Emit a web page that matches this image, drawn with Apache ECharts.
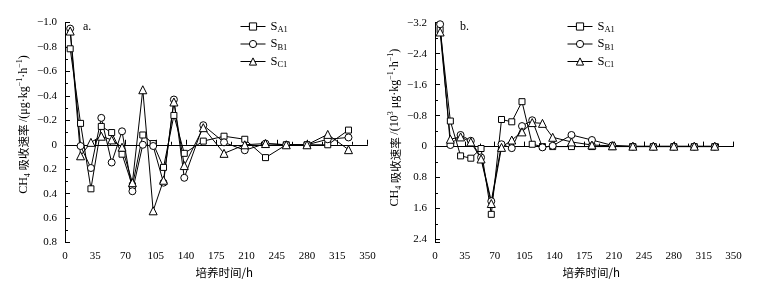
<!DOCTYPE html>
<html>
<head>
<meta charset="utf-8">
<script src="https://cdn.jsdelivr.net/npm/echarts@6/dist/echarts.min.js"></script>
<style>
html,body{margin:0;padding:0;background:#fff;}
#c{width:767px;height:283px;}
</style>
</head>
<body>
<div id="c"></div>
<script>
// ---- data ----
const hours = [6,18,30,42,54,66,78,90,102,114,126,138,160,184,208,232,256,280,304,328];
const seriesNames = ['SA1','SB1','SC1'];
// panel a (μg·kg-1·h-1)
const aSA1 = [-0.785,-0.175,0.36,-0.15,-0.10,0.077,0.335,-0.08,-0.01,0.185,-0.24,0.07,-0.03,-0.07,-0.045,0.105,0,0,0.0,-0.12];
const aSB1 = [-0.95,0.01,0.19,-0.22,0.145,-0.11,0.38,0.0,0.01,0.31,-0.37,0.27,-0.16,-0.02,0.045,-0.01,0,0,-0.045,-0.06];
const aSC1 = [-0.93,0.09,-0.02,-0.07,-0.04,0.02,0.31,-0.45,0.54,0.29,-0.35,0.17,-0.14,0.07,0.0,-0.01,0,0,-0.085,0.04];
// panel b (10^3 μg·kg-1·h-1)
const bSA1 = [-3.02,-0.66,0.24,0.30,0.05,1.75,-0.70,-0.64,-1.16,-0.06,0.0,0.0,0.0,0.0,0.0,0,0,0,0,0];
const bSB1 = [-3.16,-0.04,-0.30,-0.15,0.28,1.41,-0.06,0.04,-0.53,-0.68,0.02,-0.02,-0.30,-0.17,-0.03,0,0,0,0,0];
const bSC1 = [-2.96,-0.19,-0.25,-0.12,0.32,1.47,0.02,-0.17,-0.38,-0.62,-0.60,-0.24,-0.12,-0.04,-0.02,-0.01,-0.01,-0.01,-0.01,-0.01];
// axis ticks
const xTicks = {min:0, max:350, step:35};
const aY = {min:-1.0, max:0.8, step:0.2};
const bY = {min:-3.2, max:2.48, step:0.8};
const panelLabels = ['a.','b.'];
const legendSub = {SA1:'A1', SB1:'B1', SC1:'C1'};

const SERIF = '"Liberation Serif","Times New Roman",serif';
const CJK = '"Noto Sans CJK SC",sans-serif';
const symbols = {SA1:['rect',6], SB1:['circle',7], SC1:['triangle',8]};

function fmtY(v, step){
  if (Math.abs(v) < 1e-9) return '0';
  const r = Math.round(v/step);
  if (Math.abs(v - r*step) > 1e-6) return '';
  return (v<0 ? '\u2212' : '') + Math.abs(v).toFixed(1);
}

const richName = {
  n:{fontFamily:SERIF,fontSize:12,lineHeight:16,color:'#000'},
  c:{fontFamily:CJK,fontSize:11.5,lineHeight:16,color:'#000'},
  sub:{fontFamily:SERIF,fontSize:8,lineHeight:8,verticalAlign:'bottom',color:'#000'},
  sup:{fontFamily:SERIF,fontSize:8,lineHeight:8,verticalAlign:'top',color:'#000'}
};

function xAxis(gi, pad){
  return {
    type:'value', gridIndex:gi, min:xTicks.min, max:xTicks.max, interval:xTicks.step,
    name:'培养时间/h', nameLocation:'middle', nameGap:18,
    nameTextStyle:{fontFamily:CJK,fontSize:11.5,color:'#000',padding:pad},
    axisLine:{lineStyle:{color:'#000',width:1}},
    axisTick:{inside:true,length:5,lineStyle:{color:'#000'}},
    minorTick:{show:true,splitNumber:2,length:3,lineStyle:{color:'#000'}},
    axisLabel:{fontFamily:SERIF,fontSize:11,color:'#000',margin:8},
    splitLine:{show:false}
  };
}
function yAxis(gi, cfg, name, gap, pad){
  return {
    type:'value', gridIndex:gi, inverse:true, min:cfg.min, max:cfg.max, interval:cfg.step,
    offset:3,
    name:name, nameLocation:'middle', nameGap:gap,
    nameTextStyle:{rich:richName, padding:pad},
    axisLine:{show:true,lineStyle:{color:'#000',width:1}},
    axisTick:{inside:true,length:5,lineStyle:{color:'#000'}},
    minorTick:{show:true,splitNumber:2,length:3,lineStyle:{color:'#000'}},
    axisLabel:{fontFamily:SERIF,fontSize:11,color:'#000',margin:5,showMaxLabel:true,
      formatter:v=>fmtY(v,cfg.step)},
    splitLine:{show:false}
  };
}

function mkSeries(name, data, gi){
  return {
    type:'line', name:name, xAxisIndex:gi, yAxisIndex:gi,
    data: hours.map((h,i)=>[h, data[i]]),
    symbol:symbols[name][0], symbolSize:symbols[name][1],
    lineStyle:{color:'#000',width:1},
    itemStyle:{color:'#fff',borderColor:'#000',borderWidth:1},
    emphasis:{disabled:true},
    animation:false
  };
}

function legend(left){
  return {
    orient:'vertical', left:left, top:20, padding:0, itemWidth:25, itemHeight:9, itemGap:3,
    data:seriesNames, selectedMode:false,
    itemStyle:{color:'#fff',borderColor:'#000',borderWidth:1},
    lineStyle:{color:'#000',width:1},
    formatter:n=>'{s|S}{sub|'+legendSub[n]+'}',
    textStyle:{rich:{
      s:{fontFamily:SERIF,fontSize:12.5,lineHeight:16,color:'#000'},
      sub:{fontFamily:SERIF,fontSize:8.5,lineHeight:10,verticalAlign:'bottom',color:'#000'}
    }}
  };
}

const nameA = '{n|CH}{sub|4}{c| 吸收速率 }{n|/(μg·kg}{sup|−1}{n|·h}{sup|−1}{n|)}';
const nameB = '{n|CH}{sub|4}{c| 吸收速率 }{n|/(10}{sup|3}{n| μg·kg}{sup|−1}{n|·h}{sup|−1}{n|)}';

const option = {
  backgroundColor:'#fff',
  animation:false,
  title:[
    {text:panelLabels[0], left:78, top:16, textStyle:{fontFamily:SERIF,fontSize:12,fontWeight:'normal',color:'#000'}},
    {text:panelLabels[1], left:455, top:16, textStyle:{fontFamily:SERIF,fontSize:12,fontWeight:'normal',color:'#000'}}
  ],
  legend:[legend(240), legend(567)],
  grid:[
    {left:65, top:22.5, width:302.5, height:221.8, containLabel:false},
    {left:435, top:22.7, width:298.5, height:221.6, containLabel:false}
  ],
  xAxis:[xAxis(0,[0,0,0,16]), xAxis(1,[0,0,0,14])],
  yAxis:[yAxis(0,aY,nameA,30,[0,0,0,16]), yAxis(1,bY,nameB,27,[0,0,0,10])],
  series:[
    mkSeries('SA1',aSA1,0), mkSeries('SB1',aSB1,0), mkSeries('SC1',aSC1,0),
    mkSeries('SA1',bSA1,1), mkSeries('SB1',bSB1,1), mkSeries('SC1',bSC1,1)
  ]
};
const chart = echarts.init(document.getElementById('c'), null, {renderer:'canvas'});
chart.setOption(option);
</script>
</body>
</html>
